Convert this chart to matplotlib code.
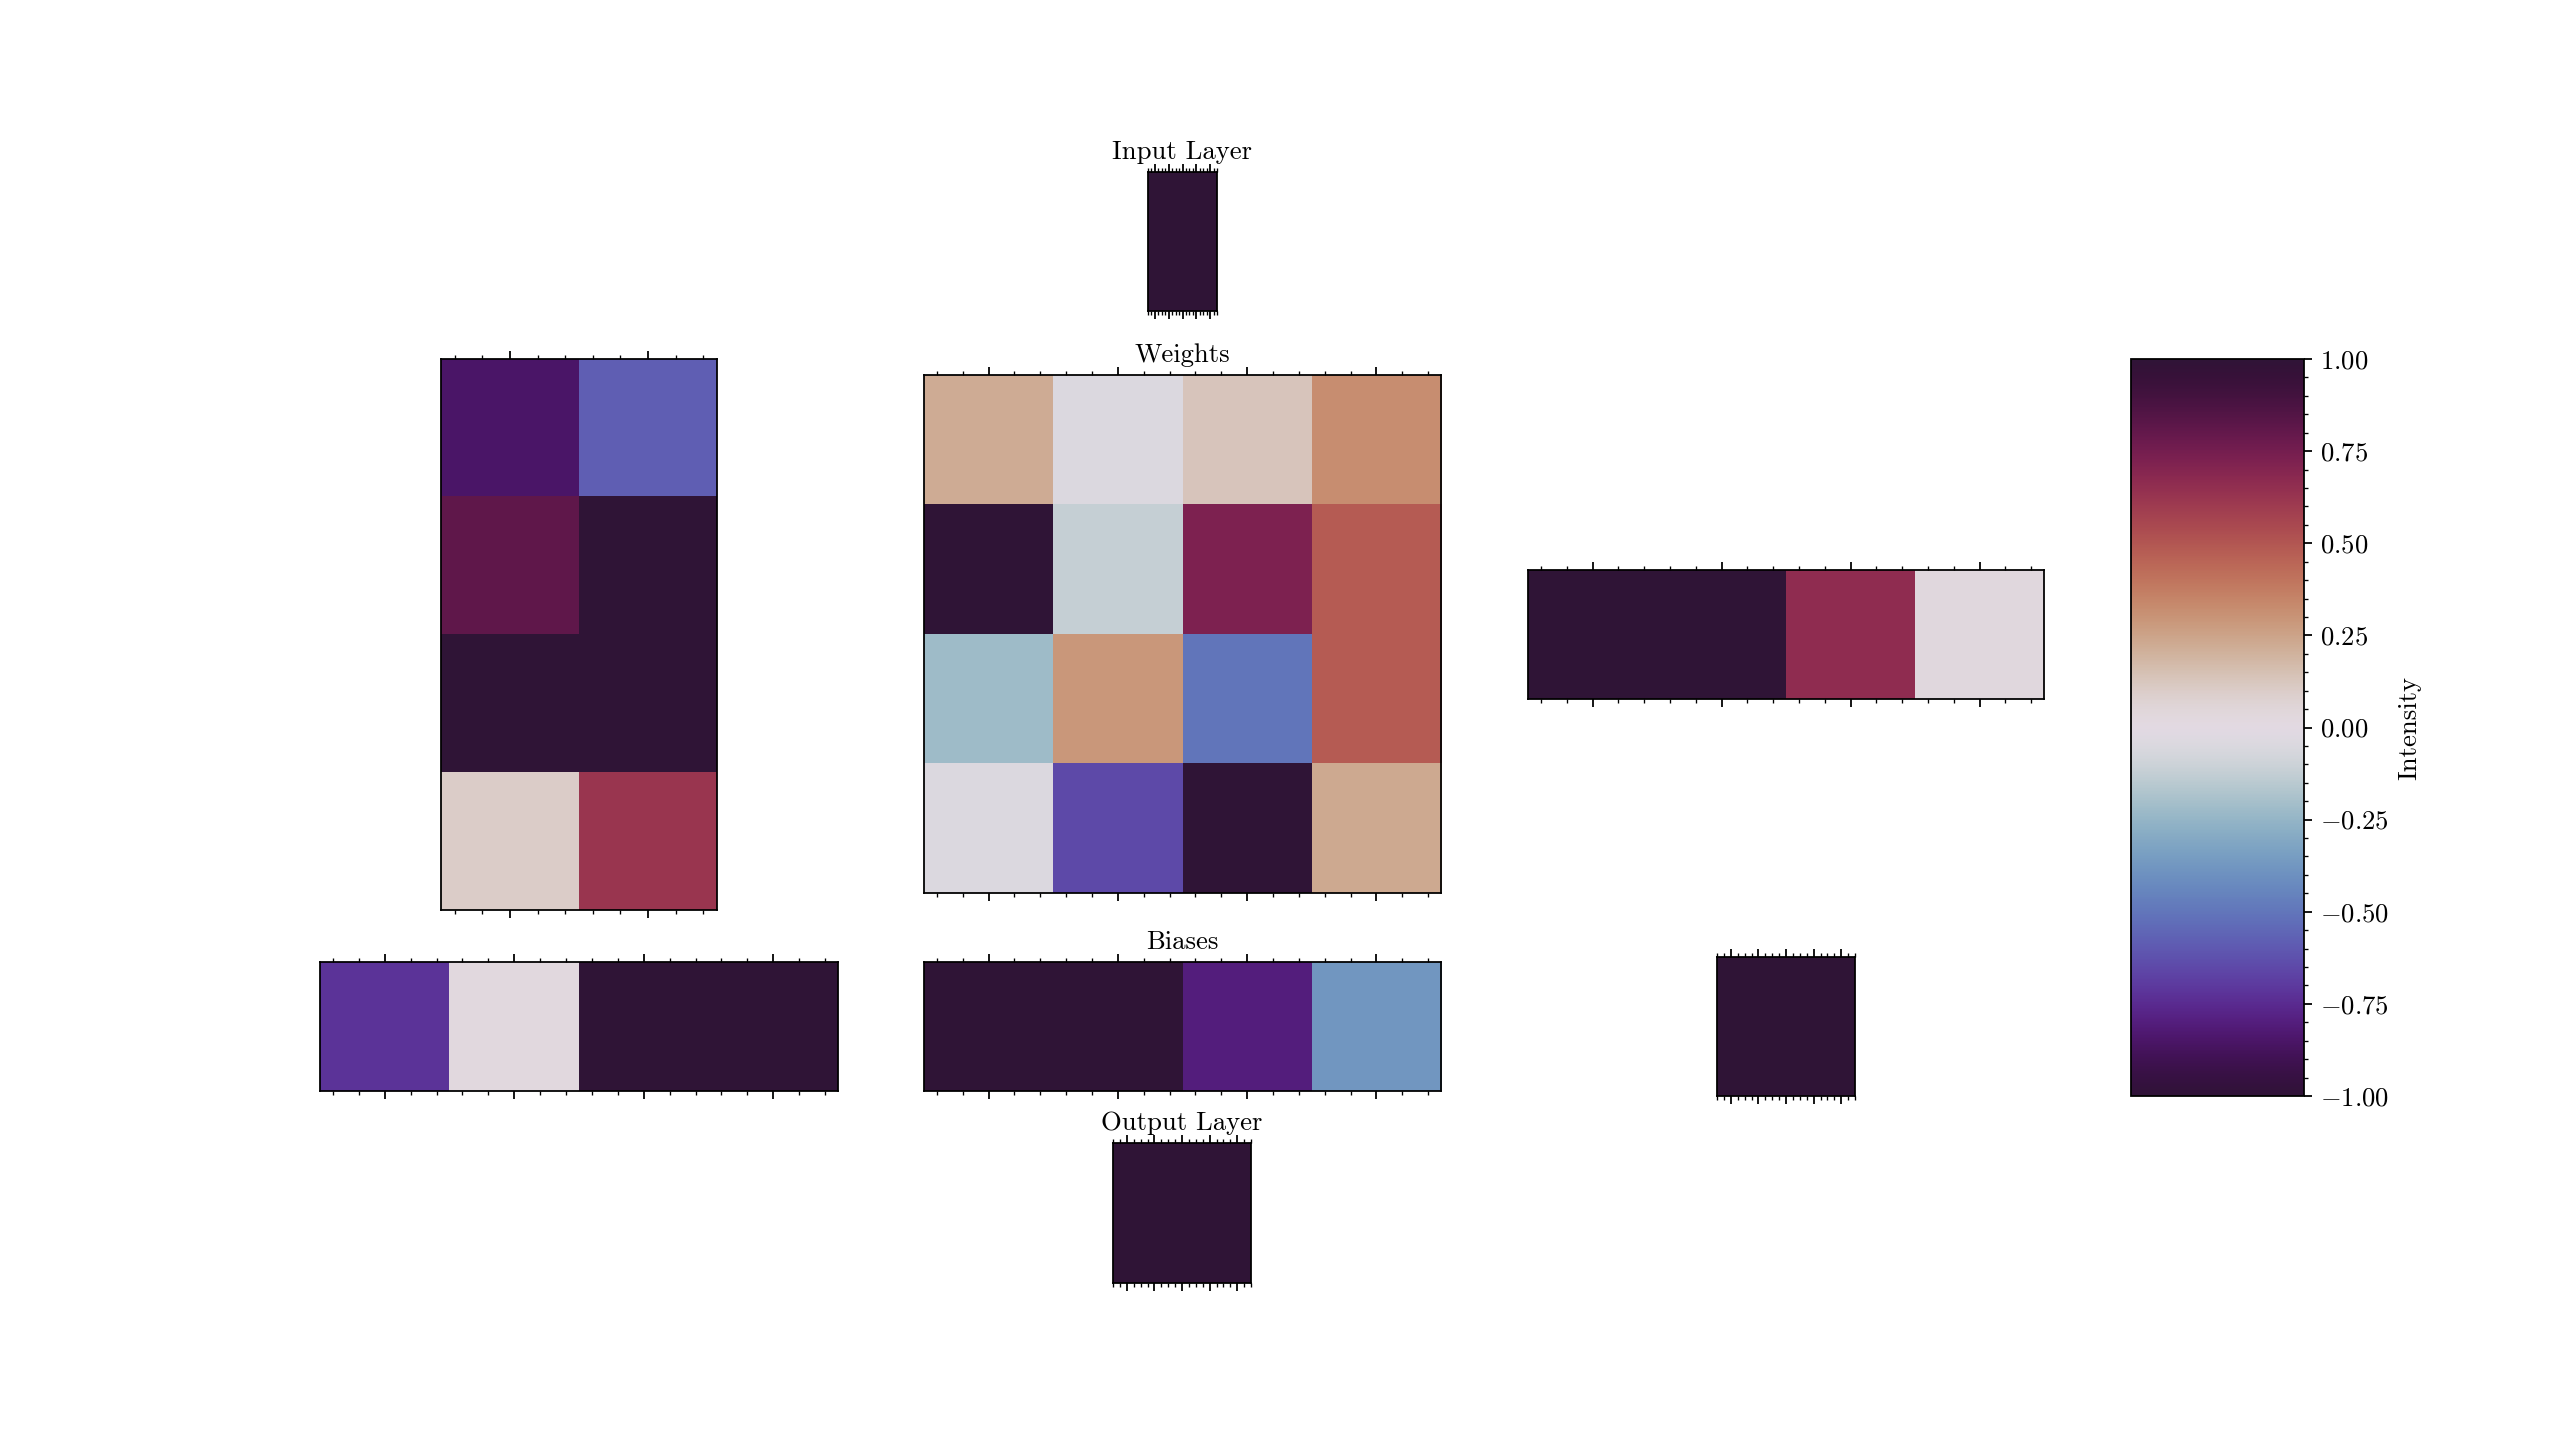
import numpy as np
import matplotlib
matplotlib.use("Agg")
import matplotlib.pyplot as plt
from matplotlib.ticker import MultipleLocator, AutoMinorLocator, ScalarFormatter

plt.rcParams['font.family'] = ['cmr10', 'DejaVu Serif']
plt.rcParams['mathtext.fontset'] = 'cm'
plt.rcParams['axes.formatter.use_mathtext'] = True
plt.rcParams['axes.unicode_minus'] = True
plt.rcParams['font.size'] = 12

# cell values (row-major, top row first)
input_layer = [[1.0]]
left_matrix = [[-0.85, -0.58],
               [0.81, 1.0],
               [1.0, 1.0],
               [0.10, 0.62]]
weights = [[0.22, -0.04, 0.13, 0.32],
           [1.0, -0.12, 0.72, 0.48],
           [-0.22, 0.29, -0.5, 0.48],
           [-0.04, -0.65, 1.0, 0.23]]
right_row = [[1.0, 1.0, 0.66, 0.03]]
left_bias = [[-0.72, 0.02, 1.0, 1.0]]
biases = [[1.0, 1.0, -0.8, -0.38]]
right_cell = [[1.0]]
output_layer = [[1.0]]

W, H = 2560, 1440
fig = plt.figure(figsize=(16, 9), dpi=160)


def box(x0, x1, y0, y1):
    return [x0 / W, 1 - y1 / H, (x1 - x0) / W, (y1 - y0) / H]


def panel(data, rect, title=None):
    ax = fig.add_axes(rect)
    im = ax.imshow(np.array(data), cmap='twilight_shifted', vmin=-1, vmax=1,
                   aspect='auto', interpolation='nearest')
    ncol = np.array(data).shape[1]
    ax.xaxis.set_major_locator(MultipleLocator(0.2 if ncol == 1 else 1))
    ax.xaxis.set_minor_locator(AutoMinorLocator())
    ax.tick_params(axis='x', which='both', top=True, bottom=True,
                   labeltop=False, labelbottom=False, direction='out')
    ax.set_yticks([])
    if title:
        ax.set_title(title, fontsize=12)
    return im


panel(input_layer, box(1148, 1217, 172, 311), "Input Layer")
panel(left_matrix, box(441, 717, 359, 910))
im = panel(weights, box(924, 1441, 375, 893), "Weights")
panel(right_row, box(1528, 2044, 570, 699))
panel(left_bias, box(320, 838, 962, 1091))
panel(biases, box(924, 1441, 962, 1091), "Biases")
panel(right_cell, box(1717, 1855, 957, 1096))
panel(output_layer, box(1113, 1251, 1143, 1283), "Output Layer")

cax = fig.add_axes(box(2131, 2304, 359, 1096))
cb = fig.colorbar(im, cax=cax)
cb.set_ticks(np.arange(-1, 1.01, 0.25))
cb.ax.yaxis.set_minor_locator(AutoMinorLocator(5))
cb.ax.yaxis.set_major_formatter(ScalarFormatter(useMathText=True))
cb.ax.tick_params(labelsize=12)
cb.set_label("Intensity", fontsize=12)

fig.savefig("out.png", dpi=160)
